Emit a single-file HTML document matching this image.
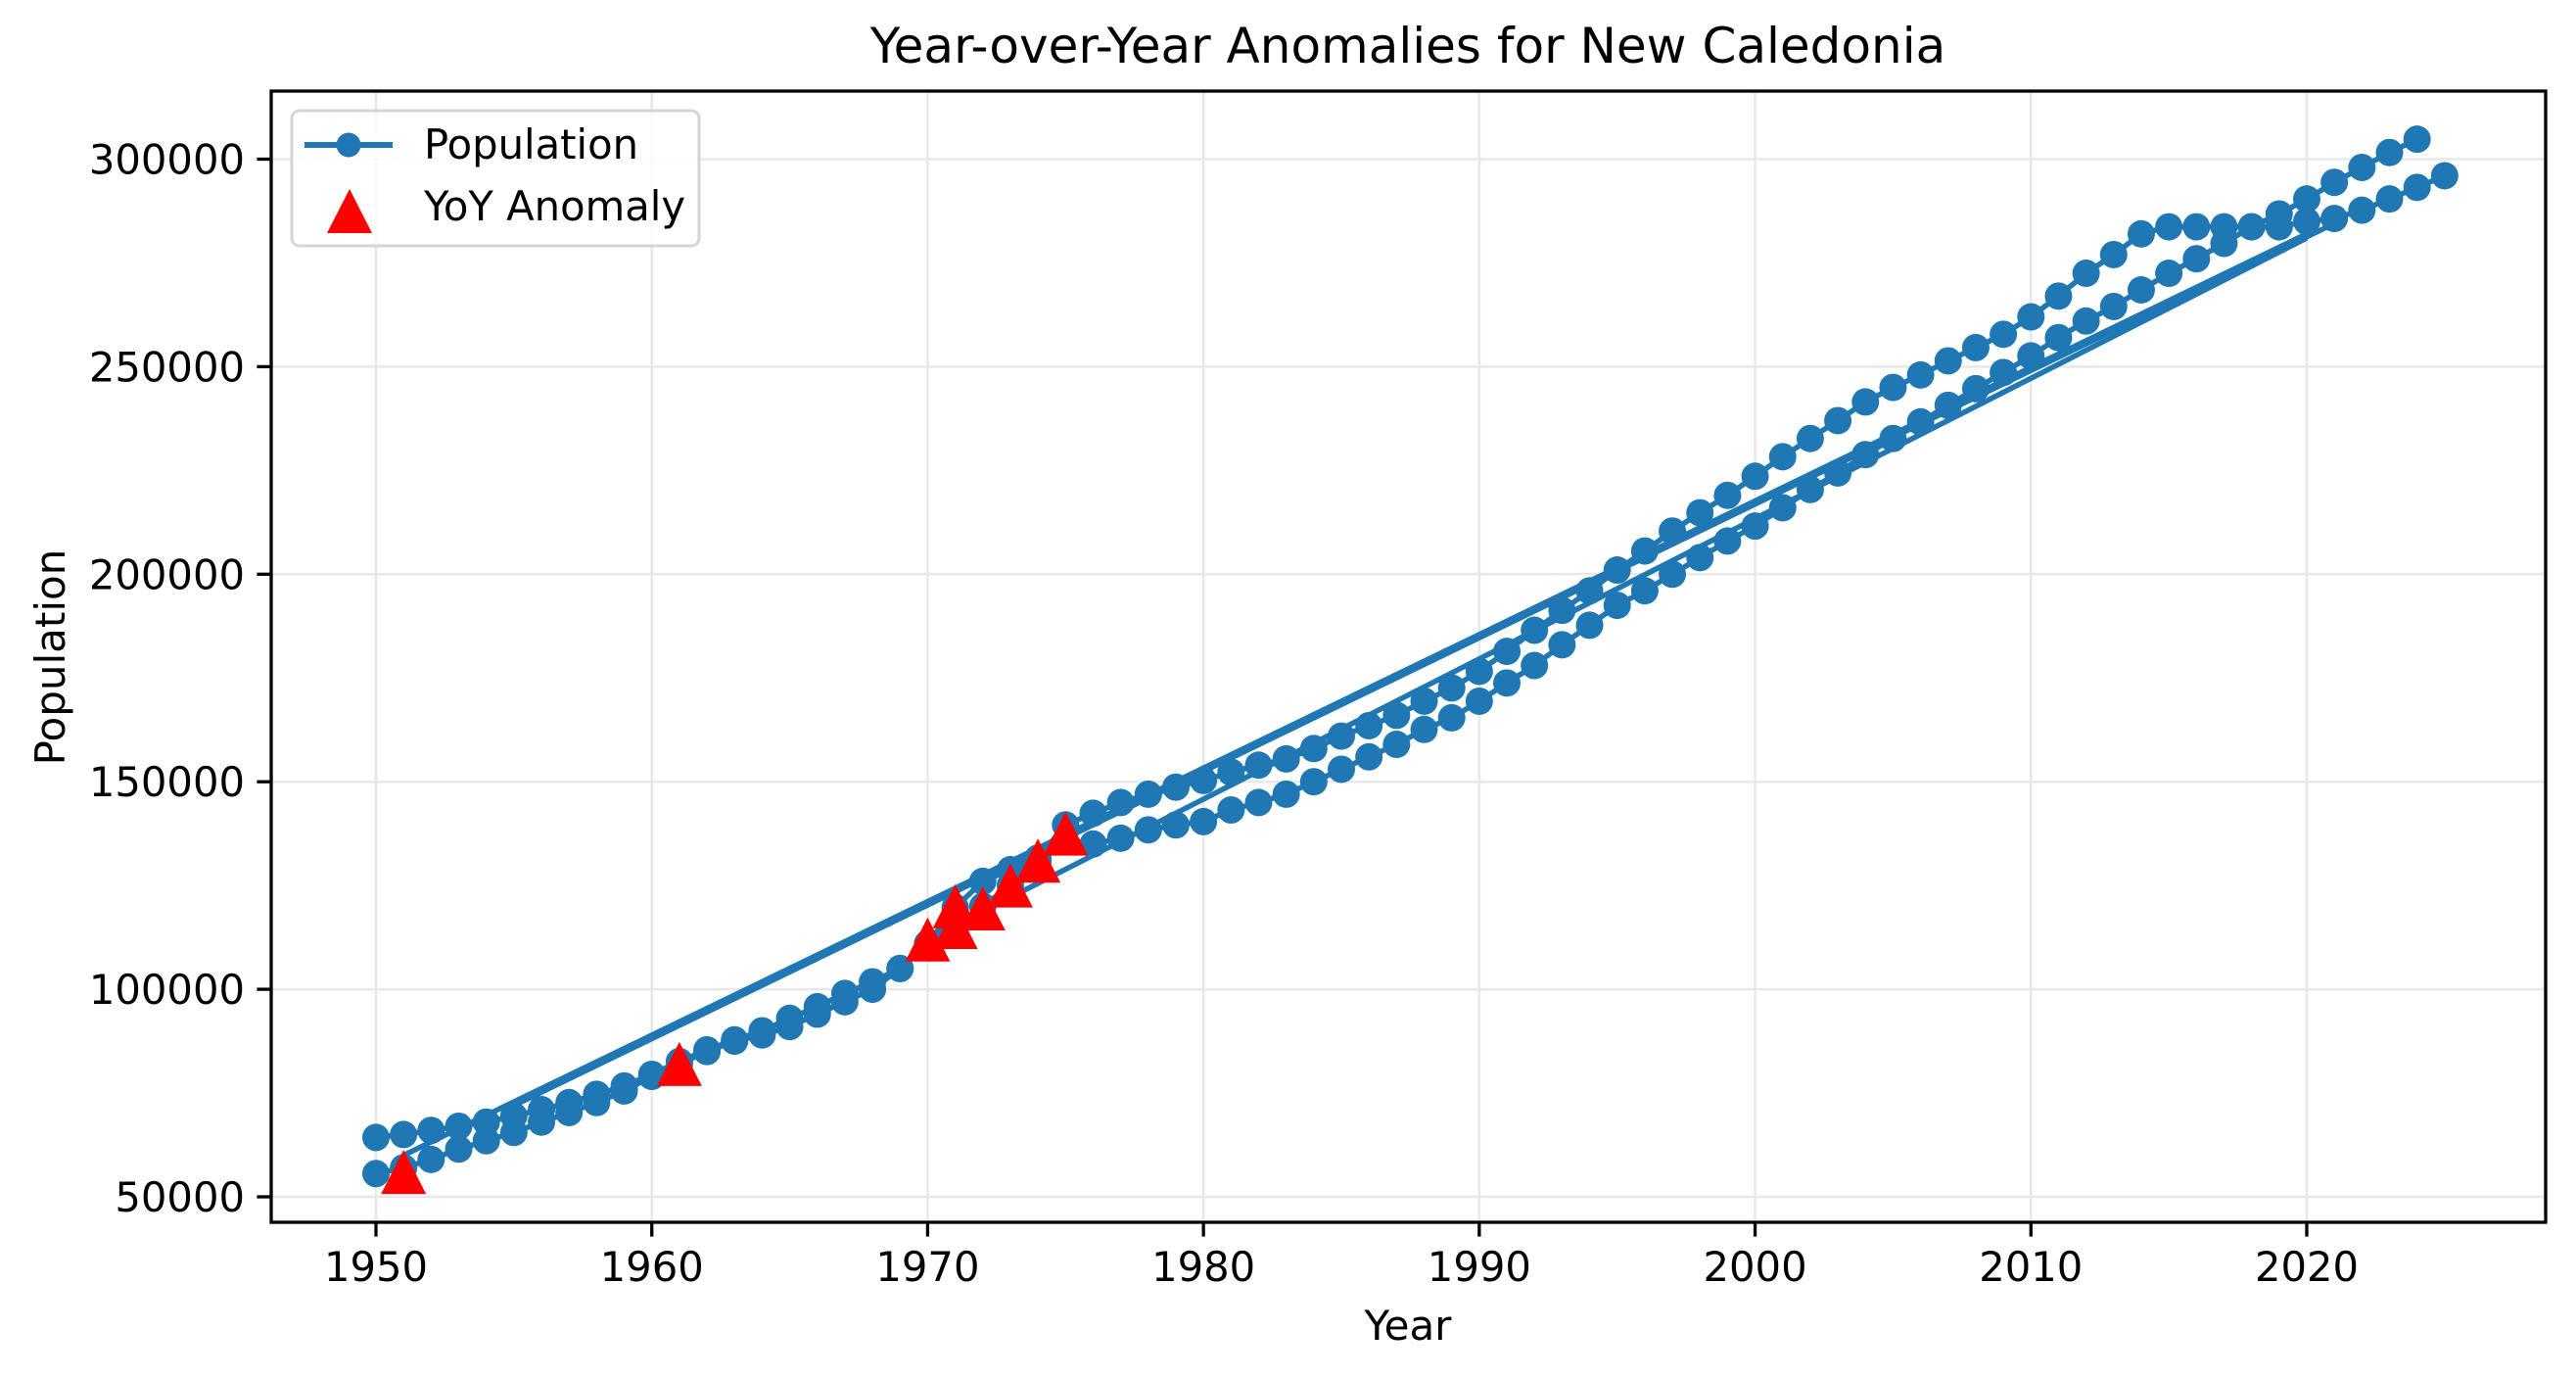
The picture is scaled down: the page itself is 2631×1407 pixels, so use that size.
<!DOCTYPE html>
<html><head><meta charset="utf-8"><style>
html,body{margin:0;padding:0;background:#fff;}
svg{display:block;font-family:"DejaVu Sans","Liberation Sans",sans-serif;}
</style></head><body>
<svg id="chart" width="2631" height="1407" viewBox="0 0 2631 1407" xmlns="http://www.w3.org/2000/svg">
<rect width="2631" height="1407" fill="#fff"/>
<text x="1438" y="64" font-size="50" text-anchor="middle" fill="#000">Year-over-Year Anomalies for New Caledonia</text>
<g id="grid"></g>
<g id="lines"></g>
<g id="marks"></g>
<g id="axes"></g>
<text x="1438" y="1368" font-size="42" text-anchor="middle">Year</text>
<text transform="translate(66,671) rotate(-90)" font-size="42" text-anchor="middle">Population</text>
<g>
<rect x="298" y="113" width="416" height="138" rx="8" fill="#fff" fill-opacity="0.8" stroke="#d5d5d5" stroke-width="3"/>
<line x1="311" y1="148" x2="401" y2="148" stroke="#1f77b4" stroke-width="6"/>
<circle cx="356" cy="148" r="12.5" fill="#1f77b4"/>
<text x="433" y="162" font-size="41.7">Population</text>
<polygon points="357,193 334,238 380,238" fill="#ff0000"/>
<text x="433" y="225" font-size="41.7">YoY Anomaly</text>
</g>
</svg>
<script>
const upperYears = [1950,1951,1952,1953,1954,1955,1956,1957,1958,1959,1960,1961,1962,1963,1964,1965,1966,1967,1968,1969,1970,1971,1972,1973,1974,1975,1976,1977,1978,1979,1980,1981,1982,1983,1984,1985,1986,1987,1988,1989,1990,1991,1992,1993,1994,1995,1996,1997,1998,1999,2000,2001,2002,2003,2004,2005,2006,2007,2008,2009,2010,2011,2012,2013,2014,2015,2016,2017,2018,2019,2020,2021,2022,2023,2024];
const upperPop = [64300,65000,66000,67000,68000,69500,71000,72700,74700,76700,79500,82600,85400,87800,90000,93000,95800,99000,101800,105000,111000,119700,126000,128800,131600,139600,142400,145000,147000,148700,150300,152300,154000,155500,158000,161000,163500,166000,169400,172600,176600,181400,186500,191300,196000,201000,205600,210400,214800,219000,223600,228300,232700,237000,241500,245000,248000,251400,254600,257800,262000,267000,272500,277000,282000,283700,283700,283700,283700,286800,290400,294400,298000,301600,304800];
const lowerYears = [1950,1951,1952,1953,1954,1955,1956,1957,1958,1959,1960,1961,1962,1963,1964,1965,1966,1967,1968,1969,1970,1971,1972,1973,1974,1975,1976,1977,1978,1979,1980,1981,1982,1983,1984,1985,1986,1987,1988,1989,1990,1991,1992,1993,1994,1995,1996,1997,1998,1999,2000,2001,2002,2003,2004,2005,2006,2007,2008,2009,2010,2011,2012,2013,2014,2015,2016,2017,2018,2019,2020,2021,2022,2023,2024,2025];
const lowerPop = [55600,57000,59000,61500,63500,65500,68000,70300,72700,75500,79000,82000,85000,87500,89000,91000,94000,97000,100000,105000,111000,114500,120000,125000,131000,135600,135000,136400,138400,139600,140400,143200,145000,147000,150000,153000,156000,159000,162600,165400,169400,173800,178000,183000,187700,192500,196000,200000,204000,208000,211600,216000,220400,224400,228800,232700,236700,240700,244700,248600,252600,257000,261000,264500,268500,272500,276000,279700,283700,283700,285000,285700,287700,290400,293200,296000];
const jumpFromYears = [1955,1951,1970];
const jumpFromPop = [72000,60000,112000];
const jumpToYears = [2021,2020,2020];
const jumpToPop = [284500,282000,281000];
const anomalyYears = [1951,1961,1970,1971,1971,1972,1973,1974,1975];
const anomalyPop = [56000,82000,112000,115000,120000,119500,125000,131000,137500];
const xTicks = [1950,1960,1970,1980,1990,2000,2010,2020];
const yTicks = [50000,100000,150000,200000,250000,300000];

const NS = "http://www.w3.org/2000/svg";
const L = 277, R = 2600, T = 93, B = 1248;
function xs(yr){ return 384 + (yr - 1950) * (2356 - 384) / 70; }
function ys(v){ return 1222 - (v - 50000) * (1222 - 162.5) / 250000; }
function mk(tag, attrs, parent){ const e = document.createElementNS(NS, tag); for (const k in attrs) e.setAttribute(k, attrs[k]); parent.appendChild(e); return e; }

const grid = document.getElementById('grid');
const axes = document.getElementById('axes');
xTicks.forEach(t => {
  const g = mk('line', {x1: xs(t), x2: xs(t), y1: T, y2: B, stroke: '#e8e8e8', 'stroke-width': 2.5}, grid);
  
  
  mk('line', {x1: xs(t), x2: xs(t), y1: B, y2: B + 14.6, stroke: '#000', 'stroke-width': 3.3}, axes);
  const lab = mk('text', {x: xs(t), y: B + 60, 'font-size': 41.7, 'text-anchor': 'middle'}, axes);
  lab.textContent = t;
  
  
});
yTicks.forEach(t => {
  const g = mk('line', {x1: L, x2: R, y1: ys(t), y2: ys(t), stroke: '#e8e8e8', 'stroke-width': 2.5}, grid);
  
  
  mk('line', {x1: L - 14.6, x2: L, y1: ys(t), y2: ys(t), stroke: '#000', 'stroke-width': 3.3}, axes);
  const lab = mk('text', {x: L - 27, y: ys(t) + 15, 'font-size': 41.7, 'text-anchor': 'end'}, axes);
  lab.textContent = t;
  
  
});
const frame = mk('rect', {x: L, y: T, width: R - L, height: B - T, fill: 'none', stroke: '#000', 'stroke-width': 3.3}, axes);



const lines = document.getElementById('lines');
function poly(yrs, vals, name){
  const p = mk('polyline', {points: yrs.map((y,i) => xs(y) + ',' + ys(vals[i])).join(' '), fill: 'none', stroke: '#1f77b4', 'stroke-width': 5.5, 'stroke-linejoin': 'round'}, lines);
  
  
}
poly(upperYears, upperPop, 'population-line-upper');
poly(lowerYears, lowerPop, 'population-line-lower');
jumpFromYears.forEach((y,i) => {
  const l = mk('line', {x1: xs(y), y1: ys(jumpFromPop[i]), x2: xs(jumpToYears[i]), y2: ys(jumpToPop[i]), stroke: '#1f77b4', 'stroke-width': 5.5}, lines);
  
  
});
const marks = document.getElementById('marks');
function dots(yrs, vals){
  yrs.forEach((y,i) => {
    const c = mk('circle', {cx: xs(y), cy: ys(vals[i]), r: 14, fill: '#1f77b4'}, marks);
    
    
  });
}
dots(upperYears, upperPop);
dots(lowerYears, lowerPop);
anomalyYears.forEach((y,i) => {
  const cx = xs(y), cy = ys(anomalyPop[i]);
  const t = mk('polygon', {points: `${cx},${cy-22.5} ${cx-23},${cy+22.5} ${cx+23},${cy+22.5}`, fill: '#ff0000'}, marks);
  
  
});
</script>
</body></html>
